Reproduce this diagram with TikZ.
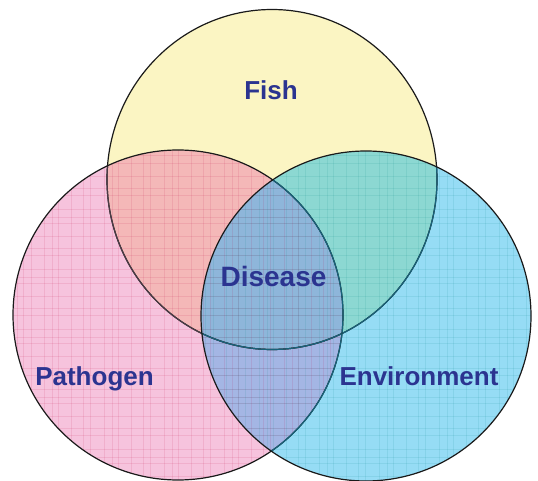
\documentclass[tikz,border=0pt]{standalone}
\usepackage{fontspec}
\setmainfont{Liberation Sans}
\definecolor{fishc}{HTML}{FBF5C3}
\definecolor{pathc}{HTML}{F6C3DD}
\definecolor{envc}{HTML}{96DCF5}
\definecolor{fpc}{HTML}{F4B8B8}
\definecolor{fec}{HTML}{8CD8D2}
\definecolor{pec}{HTML}{A4B6E4}
\definecolor{allc}{HTML}{8EB6DA}
\definecolor{txtc}{HTML}{2B3490}
\definecolor{edgec}{HTML}{1A1A1A}
\definecolor{edgep}{HTML}{4B3B45}
\definecolor{edgee}{HTML}{17627A}
\tikzset{
  x=1pt, y=-1pt,
  lab/.style={text=txtc, font=\bfseries\fontsize{26}{30}\selectfont, anchor=base, inner sep=0pt},
  outl/.style={line width=1.2pt},
  gridl/.style={line width=0.5pt, opacity=0.10}
}
\newcommand{\fishpath}{(272,179.5) ellipse [x radius=165pt, y radius=170pt]}
\newcommand{\pathpath}{(178,315) circle [radius=165pt]}
\newcommand{\envpath}{(366,316) circle [radius=165pt]}
\begin{document}
\begin{tikzpicture}
\useasboundingbox (0,0) rectangle (538,481);
\coordinate (fishcenter) at (272,179.5);
\coordinate (pathcenter) at (178,315);
\coordinate (envcenter) at (366,316);
% base fills
\fill[fishc] \fishpath;
\fill[pathc] \pathpath;
\fill[envc] \envpath;
% overlaps
\begin{scope}\clip \fishpath; \fill[fpc] \pathpath; \end{scope}
\begin{scope}\clip \fishpath; \fill[fec] \envpath; \end{scope}
\begin{scope}\clip \pathpath; \fill[pec] \envpath; \end{scope}
\begin{scope}\clip \fishpath; \clip \pathpath; \fill[allc] \envpath; \end{scope}
% faint plaid texture
\begin{scope}\clip \pathpath;
  \foreach \v in {17,23,31,44,52,58,71,83,90,104,112,118,131,143,150,164,172,178,191,203,210,224,232,238,251,263,270,284,292,298,311,323,330}{
    \draw[gridl, draw=purple] (\v,140) -- (\v,481);
  }
  \foreach \v in {155,163,176,188,195,209,217,223,236,248,255,269,277,283,296,308,315,329,337,343,356,368,375,389,397,403,416,428,435,449,457,463,476}{
    \draw[gridl, draw=purple] (0,\v) -- (350,\v);
  }
\end{scope}
\begin{scope}\clip \envpath;
  \foreach \v in {205,213,226,238,245,259,267,273,286,298,305,319,327,333,346,358,365,379,387,393,406,418,425,439,447,453,466,478,485,499,507,513,526}{
    \draw[gridl, draw=teal] (\v,140) -- (\v,481);
  }
  \foreach \v in {155,163,176,188,195,209,217,223,236,248,255,269,277,283,296,308,315,329,337,343,356,368,375,389,397,403,416,428,435,449,457,463,476}{
    \draw[gridl, draw=teal] (195,\v) -- (538,\v);
  }
\end{scope}
% outlines
\draw[outl, edgec] \fishpath;
\begin{scope}\clip \pathpath; \draw[outl, edgep] \fishpath; \end{scope}
\begin{scope}\clip \envpath; \draw[outl, edgee] \fishpath; \end{scope}
\draw[outl, edgec] \pathpath;
\begin{scope}\clip \envpath; \draw[outl, edgee] \pathpath; \end{scope}
\draw[outl, edgec] \envpath;
% labels
\node[lab] (fish) at (271,100) {Fish};
\node[lab, font=\bfseries\fontsize{28}{32}\selectfont] (disease) at (273.5,286) {Disease};
\node[lab] (pathogen) at (94.5,385) {Pathogen};
\node[lab] (environment) at (419,385) {Environment};
\end{tikzpicture}
\end{document}
